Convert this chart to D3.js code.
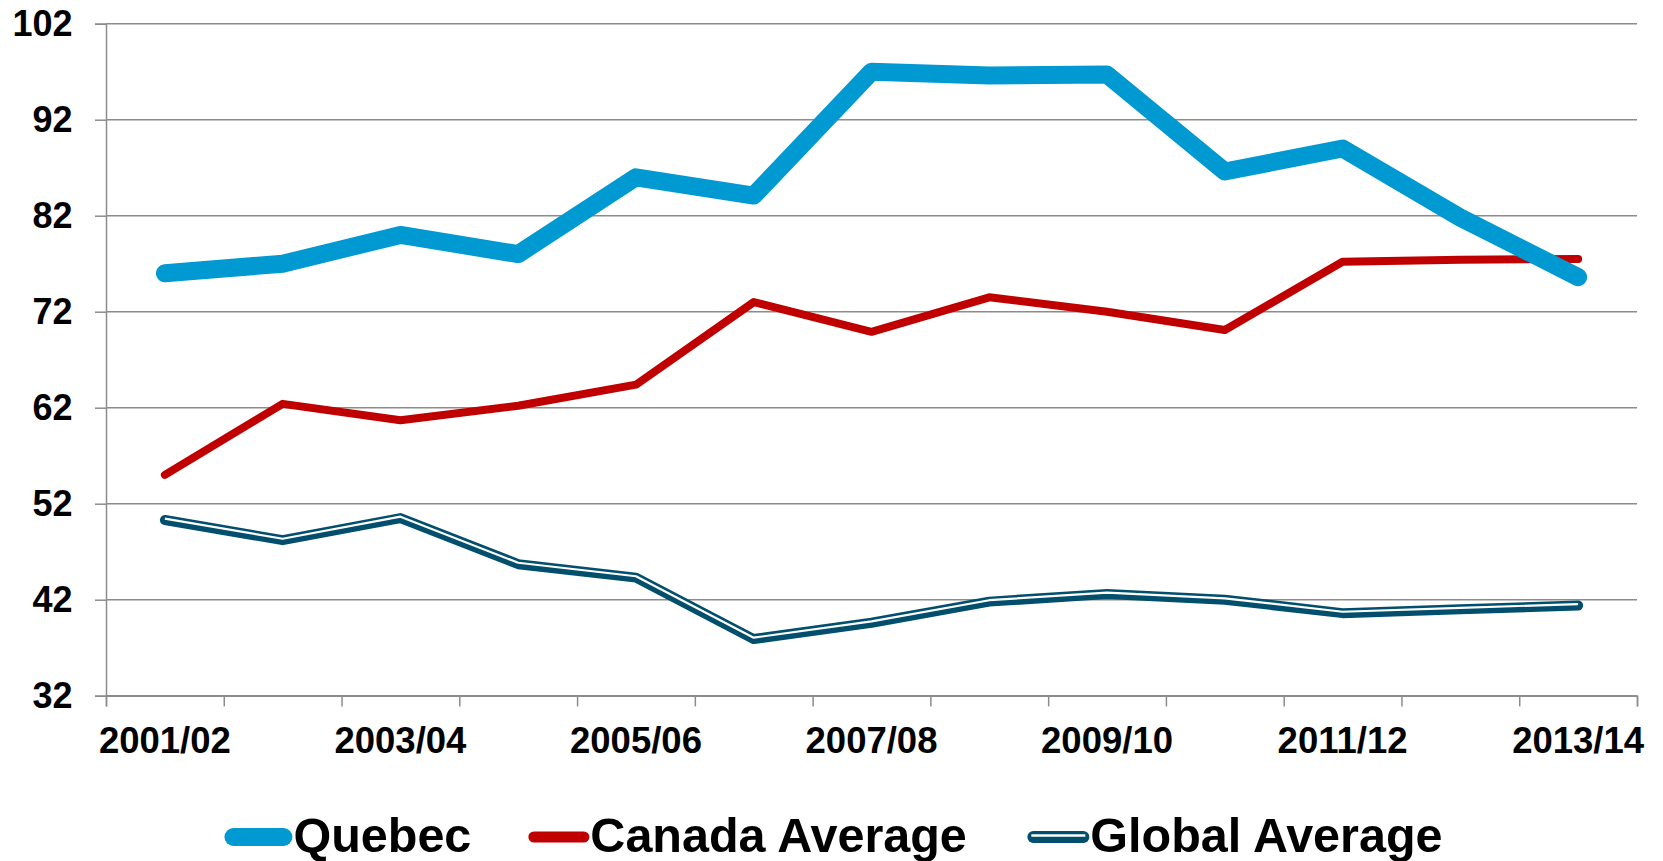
<!DOCTYPE html>
<html>
<head>
<meta charset="utf-8">
<script src="https://cdn.jsdelivr.net/npm/d3@7"></script>
<style>
    body { margin: 0; background: #fff; }
    #chart-area { width: 1663px; height: 861px; }
    text { font-family: "Liberation Sans", Arial, sans-serif; font-weight: bold; fill: #000; }
    .axis path, .axis line { stroke: #8c8c8c; stroke-width: 1.5; }
    .grid line { stroke: #8c8c8c; stroke-width: 1.5; }
</style>
</head>
<body>
<div id="chart-area"></div>
<script>

// values
const years = ["2001/02", "2002/03", "2003/04", "2004/05", "2005/06", "2006/07", "2007/08",
    "2008/09", "2009/10", "2010/11", "2011/12", "2012/13", "2013/14"];
const quebec = [76.0, 77.0, 80.0, 78.0, 86.0, 84.1, 97.0, 96.6, 96.7, 86.6, 89.0, 81.8, 75.6];
const canadaAverage = [55.0, 62.4, 60.7, 62.2, 64.4, 73.0, 69.9, 73.5, 72.0, 70.1, 77.2, 77.4, 77.5];
const globalAverage = [50.3, 48.2, 50.5, 45.7, 44.3, 37.9, 39.6, 41.8, 42.6, 42.0, 40.6, 41.0, 41.4];
const yTicks = [32, 42, 52, 62, 72, 82, 92, 102];
const xLabels = ["2001/02", "2003/04", "2005/06", "2007/08", "2009/10", "2011/12", "2013/14"];
const seriesNames = ["Quebec", "Canada Average", "Global Average"];


class LineChart {

    constructor(parentElement) {
        this.parentElement = parentElement;
        this.series = [
            {name: seriesNames[0], values: quebec, color: "#0099d2", width: 18, legendWidth: 18},
            {name: seriesNames[1], values: canadaAverage, color: "#c00000", width: 8, legendWidth: 11},
            {name: seriesNames[2], values: globalAverage, color: "#024f6d", width: 10, legendWidth: 12, double: true}
        ];
        this.initVis();
    }

    initVis() {
        let vis = this;

        vis.margin = {top: 23.7, right: 26, bottom: 165.3, left: 106};
        vis.width = 1663 - vis.margin.left - vis.margin.right;
        vis.height = 861 - vis.margin.top - vis.margin.bottom;

        vis.root = d3.select("#" + vis.parentElement).append("svg")
            .attr("width", 1663)
            .attr("height", 861);
        vis.svg = vis.root.append("g")
            .attr("transform", `translate(${vis.margin.left}, ${vis.margin.top})`);

        // scales
        vis.x = d3.scaleBand()
            .domain(years)
            .range([0, vis.width]);
        vis.xEdge = d3.scaleLinear()
            .domain([0, years.length])
            .range([0, vis.width]);
        vis.y = d3.scaleLinear()
            .domain([32, 102])
            .range([vis.height, 0]);

        // horizontal gridlines
        vis.svg.append("g")
            .attr("class", "grid")
            .selectAll("line")
            .data(yTicks)
            .join("line")
            .attr("x1", 0)
            .attr("x2", vis.width)
            .attr("y1", d => vis.y(d))
            .attr("y2", d => vis.y(d));

        // y axis
        vis.svg.append("g")
            .attr("class", "y-axis axis")
            .call(d3.axisLeft(vis.y).tickValues(yTicks).tickSize(11).tickPadding(22.5))
            .call(g => g.selectAll("text").style("font-size", "36px"));

        // x axis: ticks on the band edges, labels on every other band
        vis.svg.append("g")
            .attr("class", "x-axis axis")
            .attr("transform", `translate(0, ${vis.height})`)
            .call(d3.axisBottom(vis.xEdge).tickValues(d3.range(years.length + 1)).tickSize(10.7).tickFormat(""));
        vis.svg.append("g")
            .attr("class", "x-labels axis")
            .attr("transform", `translate(0, ${vis.height})`)
            .call(d3.axisBottom(vis.x).tickValues(xLabels).tickSize(0).tickPadding(31.4))
            .call(g => g.select(".domain").remove())
            .call(g => g.selectAll("text").style("font-size", "36.5px"));

        vis.line = d3.line()
            .x((d, i) => vis.x(years[i]) + vis.x.bandwidth() / 2)
            .y(d => vis.y(d));

        vis.updateVis();
        vis.drawLegend();
    }

    updateVis() {
        let vis = this;

        vis.series.slice().reverse().forEach(s => {
            vis.svg.append("path")
                .datum(s.values)
                .attr("fill", "none")
                .attr("stroke", s.color)
                .attr("stroke-width", s.width)
                .attr("stroke-linejoin", "round")
                .attr("stroke-linecap", "round")
                .attr("d", vis.line);
            if (s.double) {
                // thin-thick compound line: white gap above the middle
                vis.svg.append("path")
                    .datum(s.values)
                    .attr("fill", "none")
                    .attr("stroke", "#fff")
                    .attr("stroke-width", 2.2)
                    .attr("stroke-linejoin", "round")
                    .attr("transform", "translate(0, -1.4)")
                    .attr("d", vis.line);
            }
        });
    }

    drawLegend() {
        let vis = this;
        let symLen = 50, gap = 66, legendY = 837;

        let legend = vis.root.append("g").attr("class", "legend");
        let items = legend.selectAll("g")
            .data(vis.series)
            .join("g");

        items.each(function (s) {
            let g = d3.select(this);
            let cap = s.legendWidth / 2;
            g.append("line")
                .attr("x1", cap).attr("x2", cap + symLen)
                .attr("y1", legendY).attr("y2", legendY)
                .attr("stroke", s.color)
                .attr("stroke-width", s.legendWidth)
                .attr("stroke-linecap", "round");
            if (s.double) {
                g.append("line")
                    .attr("x1", cap - 2).attr("x2", cap + symLen + 2)
                    .attr("y1", legendY - 1.5).attr("y2", legendY - 1.5)
                    .attr("stroke", "#fff")
                    .attr("stroke-width", 2.4);
            }
            g.append("text")
                .attr("x", 2 * cap + symLen + 1)
                .attr("y", legendY + 15)
                .style("font-size", "48.5px")
                .text(s.name);
        });

        // lay the items out side by side, centred on the page
        let x = 0;
        let widths = [];
        items.each(function () {
            widths.push(this.getBBox().width);
        });
        let total = d3.sum(widths) + gap * (widths.length - 1);
        x = (1663 - total) / 2;
        items.attr("transform", (d, i) => {
            let t = `translate(${x}, 0)`;
            x += widths[i] + gap;
            return t;
        });
    }
}

new LineChart("chart-area");
</script>
</body>
</html>
